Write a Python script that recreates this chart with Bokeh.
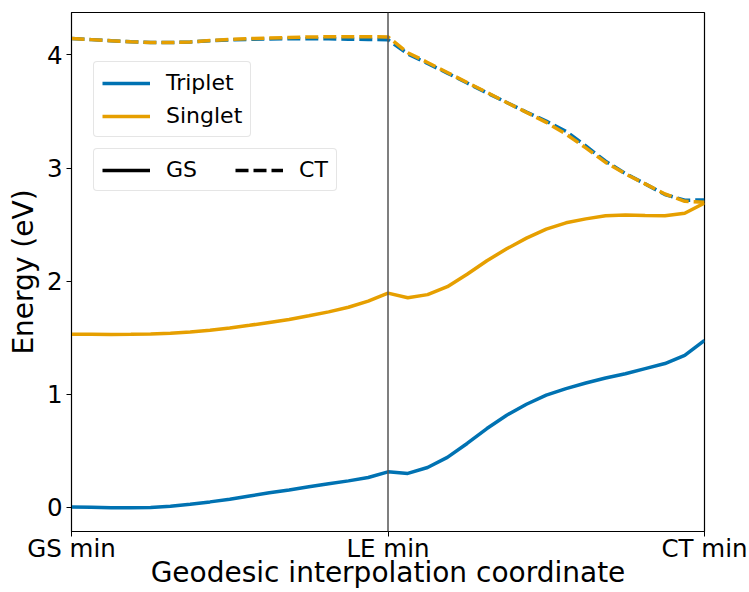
from bokeh.plotting import figure
from bokeh.models import Legend, LegendItem, Span, FixedTicker, Range1d
from bokeh.embed import file_html
from bokeh.resources import INLINE

# Geodesic interpolation coordinate (0 = GS min, 1 = LE min, 2 = CT min)
coord = [0.0, 0.0625, 0.125, 0.1875, 0.25, 0.3125, 0.375, 0.4375, 0.5,
         0.5625, 0.625, 0.6875, 0.75, 0.8125, 0.875, 0.9375, 1.0,
         1.0625, 1.125, 1.1875, 1.25, 1.3125, 1.375, 1.4375, 1.5,
         1.5625, 1.625, 1.6875, 1.75, 1.8125, 1.875, 1.9375, 2.0]

tick_positions = [0, 1, 2]
tick_labels = ["GS min", "LE min", "CT min"]

triplet_gs = [0.000, -0.002, -0.005, -0.006, -0.004, 0.008, 0.025, 0.046, 0.070,
              0.098, 0.126, 0.152, 0.180, 0.207, 0.232, 0.262, 0.312,
              0.298, 0.350, 0.440, 0.563, 0.695, 0.813, 0.910, 0.990,
              1.048, 1.098, 1.142, 1.180, 1.225, 1.270, 1.343, 1.475]

singlet_gs = [1.530, 1.529, 1.528, 1.529, 1.532, 1.538, 1.549, 1.565, 1.585,
              1.608, 1.634, 1.660, 1.693, 1.727, 1.768, 1.822, 1.893,
              1.852, 1.880, 1.950, 2.060, 2.180, 2.285, 2.380, 2.460,
              2.515, 2.550, 2.577, 2.585, 2.580, 2.577, 2.600, 2.690]

triplet_ct = [4.145, 4.136, 4.126, 4.117, 4.111, 4.110, 4.115, 4.126, 4.134,
              4.138, 4.142, 4.144, 4.145, 4.143, 4.140, 4.137, 4.135,
              4.010, 3.925, 3.840, 3.752, 3.665, 3.580, 3.495, 3.415,
              3.325, 3.195, 3.060, 2.952, 2.860, 2.765, 2.715, 2.718]

singlet_ct = [4.145, 4.136, 4.126, 4.117, 4.111, 4.110, 4.115, 4.128, 4.138,
              4.145, 4.150, 4.155, 4.159, 4.161, 4.162, 4.161, 4.160,
              4.020, 3.934, 3.845, 3.757, 3.669, 3.580, 3.492, 3.404,
              3.300, 3.178, 3.050, 2.948, 2.860, 2.770, 2.705, 2.697]

BLUE = "#0072B2"
ORANGE = "#E69F00"
FONT = "DejaVu Sans"
LW = 3.5
DASH = "13 5"

p = figure(width=749, height=592, output_backend="svg", toolbar_location=None,
           x_range=Range1d(0, 2), y_range=Range1d(-0.216, 4.376),
           min_border_left=71, min_border_right=45, min_border_top=12,
           min_border_bottom=61)
p.background_fill_color = "white"
p.border_fill_color = "white"
p.outline_line_color = "black"
p.outline_line_width = 1.2
p.grid.visible = False

r_tgs = p.line(coord, triplet_gs, line_color=BLUE, line_width=LW)
r_sgs = p.line(coord, singlet_gs, line_color=ORANGE, line_width=LW)
p.line(coord, triplet_ct, line_color=BLUE, line_width=LW, line_dash=DASH)
p.line(coord, singlet_ct, line_color=ORANGE, line_width=LW, line_dash=DASH)

# legend-only style keys (single point: draws no visible segment)
r_gs = p.line(coord[:1], triplet_gs[:1], line_color="black", line_width=LW)
r_ct = p.line(coord[:1], triplet_gs[:1], line_color="black", line_width=LW, line_dash=DASH)

p.add_layout(Span(location=1, dimension="height", line_color="#555555", line_width=1.5))

p.xaxis.ticker = FixedTicker(ticks=tick_positions)
p.xaxis.major_label_overrides = {t: l for t, l in zip(tick_positions, tick_labels)}
p.yaxis.ticker = FixedTicker(ticks=[0, 1, 2, 3, 4])
p.xaxis.axis_label = "Geodesic interpolation coordinate"
p.yaxis.axis_label = "Energy (eV)"
for ax in (p.xaxis, p.yaxis):
    ax.axis_label_text_font = FONT
    ax.axis_label_text_font_size = "28px"
    ax.axis_label_text_font_style = "normal"
    ax.axis_label_text_color = "black"
    ax.major_label_text_font = FONT
    ax.major_label_text_font_size = "24.5px"
    ax.major_label_text_color = "black"
    ax.major_tick_out = 5
    ax.major_tick_in = 0
    ax.minor_tick_out = 0
    ax.minor_tick_in = 0
    ax.major_tick_line_color = "black"
    ax.axis_line_color = "black"
    ax.major_label_standoff = 4
    ax.axis_label_standoff = 4
p.xaxis.major_label_standoff = -3
p.xaxis.axis_label_standoff = -10

common = dict(label_text_font=FONT, label_text_font_size="22px",
              label_text_color="black",
              glyph_width=48, glyph_height=22, label_standoff=16,
              padding=8, margin=0, border_line_color="#cccccc",
              border_line_width=1, background_fill_alpha=0.8)
if "border_radius" in Legend.properties():
    common["border_radius"] = 4

leg1 = Legend(items=[LegendItem(label="Triplet", renderers=[r_tgs]),
                     LegendItem(label="Singlet", renderers=[r_sgs])],
              location=(22, 394), spacing=8, **common)
leg2 = Legend(items=[LegendItem(label="GS", renderers=[r_gs]),
                     LegendItem(label="CT", renderers=[r_ct])],
              location=(22, 340), orientation="horizontal", spacing=38, **common)
p.add_layout(leg1)
p.add_layout(leg2)

open("out.html", "w").write(file_html(p, INLINE))
